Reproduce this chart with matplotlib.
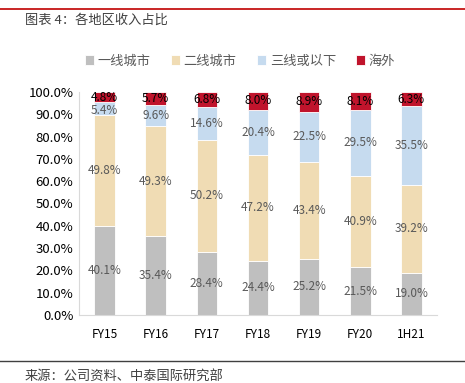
import matplotlib
matplotlib.use('Agg')
import matplotlib.pyplot as plt
import numpy as np

plt.rcParams['font.family'] = ['Noto Sans CJK SC', 'DejaVu Sans']

# 数据
categories = ['FY15', 'FY16', 'FY17', 'FY18', 'FY19', 'FY20', '1H21']
tier1 = [40.1, 35.4, 28.4, 24.4, 25.2, 21.5, 19.0]
tier2 = [49.8, 49.3, 50.2, 47.2, 43.4, 40.9, 39.2]
tier3 = [5.4, 9.6, 14.6, 20.4, 22.5, 29.5, 35.5]
overseas = [4.8, 5.7, 6.8, 8.0, 8.9, 8.1, 6.3]

series = [('一线城市', tier1, '#BFBFBF', '#595959'),
          ('二线城市', tier2, '#F0DCB4', '#595959'),
          ('三线或以下', tier3, '#C6DBEF', '#595959'),
          ('海外', overseas, '#C0142C', '#000000')]

W, H = 465, 383
fig = plt.figure(figsize=(W / 100, H / 100), dpi=100)
ax = fig.add_axes([79 / W, 1 - 315 / H, (437 - 79) / W, (315 - 92) / H])

x = np.arange(len(categories))
bottom = np.zeros(len(categories))
handles = []
for name, vals, color, tcolor in series:
    vals = np.array(vals)
    b = ax.bar(x, vals, 0.4, bottom=bottom, color=color, edgecolor='white',
               linewidth=0.6, label=name)
    handles.append(b)
    for xi, v, bt in zip(x, vals, bottom):
        yc = bt + v / 2
        if name == '海外':
            yc = min(yc, 97.9)
        elif name == '三线或以下':
            yc = min(yc, 91.8)
        ax.text(xi, yc, f'{v:.1f}%', ha='center', va='center', fontsize=8.5,
                color=tcolor)
    bottom += vals

ax.set_xlim(-0.5, len(categories) - 0.5)
ax.set_ylim(0, 100)
ax.set_yticks(np.arange(0, 101, 10))
ax.set_yticklabels([f'{v:.1f}%' for v in range(0, 101, 10)], fontsize=9.5)
ax.set_xticks(x)
ax.set_xticklabels(categories, fontsize=8.5)
ax.tick_params(axis='both', length=0, colors='#000000', pad=4)
ax.tick_params(axis='x', pad=9)
for s in ['top', 'right']:
    ax.spines[s].set_visible(False)
for s in ['left', 'bottom']:
    ax.spines[s].set_color('#D9D9D9')
    ax.spines[s].set_linewidth(0.8)

ax.legend(handles=handles, loc='center', bbox_to_anchor=(240 / W, 1 - 61 / H),
          bbox_transform=fig.transFigure, ncol=4, frameon=False, fontsize=9.5,
          handlelength=0.7, handleheight=0.7, handletextpad=0.3,
          columnspacing=1.5, labelcolor='#595959')

# 标题和来源
fig.text(25 / W, 1 - 20 / H, '图表 4：各地区收入占比', fontsize=9.5,
         color='#404040', va='center')
fig.text(25 / W, 1 - 376 / H, '来源：公司资料、中泰国际研究部', fontsize=9.5,
         color='#404040', va='center')
fig.add_artist(plt.Line2D([0, 1], [1 - 9 / H, 1 - 9 / H], color='#C00000',
                          linewidth=1.2, transform=fig.transFigure))
fig.add_artist(plt.Line2D([0, 1], [1 - 361 / H, 1 - 361 / H], color='#404040',
                          linewidth=1.0, transform=fig.transFigure))

fig.savefig('out.png', dpi=100)
